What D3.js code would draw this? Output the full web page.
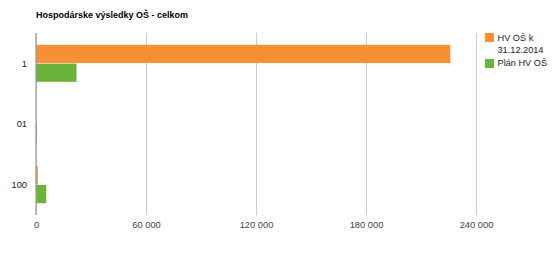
<!DOCTYPE html>
<html><head><meta charset="utf-8">
<script src="https://cdnjs.cloudflare.com/ajax/libs/d3/7.8.5/d3.min.js"></script>
<style>body{margin:0;background:#fff}svg{display:block;font-family:"Liberation Sans",Arial,sans-serif}</style>
</head><body><svg id="c" width="552" height="254"></svg>
<script>
const title = "Hospodárske výsledky OŠ - celkom";
const categories = ["1", "01", "100"];
const seriesNames = ["HV OŠ k 31.12.2014", "Plán HV OŠ"];
const seriesA = [226000, 0, 1000];
const seriesB = [22100, 500, 5600];
const tickValues = [0, 60000, 120000, 180000, 240000];
const colors = ["#f79034", "#6cb33e"];

const svg = d3.select("#c");
const L = 36, R = 476, T = 33, B = 215;
const x = d3.scaleLinear().domain([0, 240000]).range([L, R]);
const y = d3.scaleBand().domain(categories).range([T, B]).paddingInner(0.39).paddingOuter(0.195);
const ys = d3.scaleBand().domain([0, 1]).range([0, y.bandwidth()]).paddingInner(0.03);
const fmt = v => d3.format(",")(v).replace(/,/g, " ");
const FF = "Liberation Sans, Arial, sans-serif";

svg.append("text").attr("x", 36).attr("y", 17.5).attr("font-size", 9).attr("font-weight", "bold").attr("fill", "#000").text(title);

const gx = svg.append("g").attr("transform", `translate(0,${B})`)
  .call(d3.axisBottom(x).tickValues(tickValues).tickFormat(fmt).tickSize(-(B - T)).tickPadding(6));
gx.select(".domain").remove();
gx.selectAll(".tick line").attr("stroke", "#ccc");
gx.selectAll(".tick text").attr("font-size", 9.3).attr("fill", "#444").attr("font-family", FF).attr("dy", null).attr("y", 13);

const gy = svg.append("g").attr("transform", `translate(${L},0)`)
  .call(d3.axisLeft(y).tickSize(0).tickPadding(9));
gy.select(".domain").remove();
gy.selectAll(".tick text").attr("font-size", 9.3).attr("fill", "#222").attr("font-family", FF).attr("dy", "0.35em");

const data = [seriesA, seriesB];
data.forEach((s, si) => {
  svg.append("g").selectAll("rect").data(s).join("rect")
    .attr("x", x(0))
    .attr("y", (d, i) => y(categories[i]) + ys(si))
    .attr("width", d => x(d) - x(0))
    .attr("height", ys.bandwidth())
    .attr("fill", colors[si]);
});

svg.append("line").attr("x1", x(0)).attr("x2", x(0)).attr("y1", T).attr("y2", B).attr("stroke", "#999").attr("stroke-width", 1.2);

// legend
const lg = svg.append("g").attr("font-size", 9.2).attr("fill", "#222");
lg.append("rect").attr("x", 485).attr("y", 33).attr("width", 9).attr("height", 9).attr("fill", colors[0]);
lg.append("text").attr("x", 497.5).attr("y", 40.5).text("HV OŠ k");
lg.append("text").attr("x", 497.5).attr("y", 52.5).text("31.12.2014");
lg.append("rect").attr("x", 485).attr("y", 59).attr("width", 9).attr("height", 9).attr("fill", colors[1]);
lg.append("text").attr("x", 497.5).attr("y", 65.5).text(seriesNames[1]);
</script></body></html>
